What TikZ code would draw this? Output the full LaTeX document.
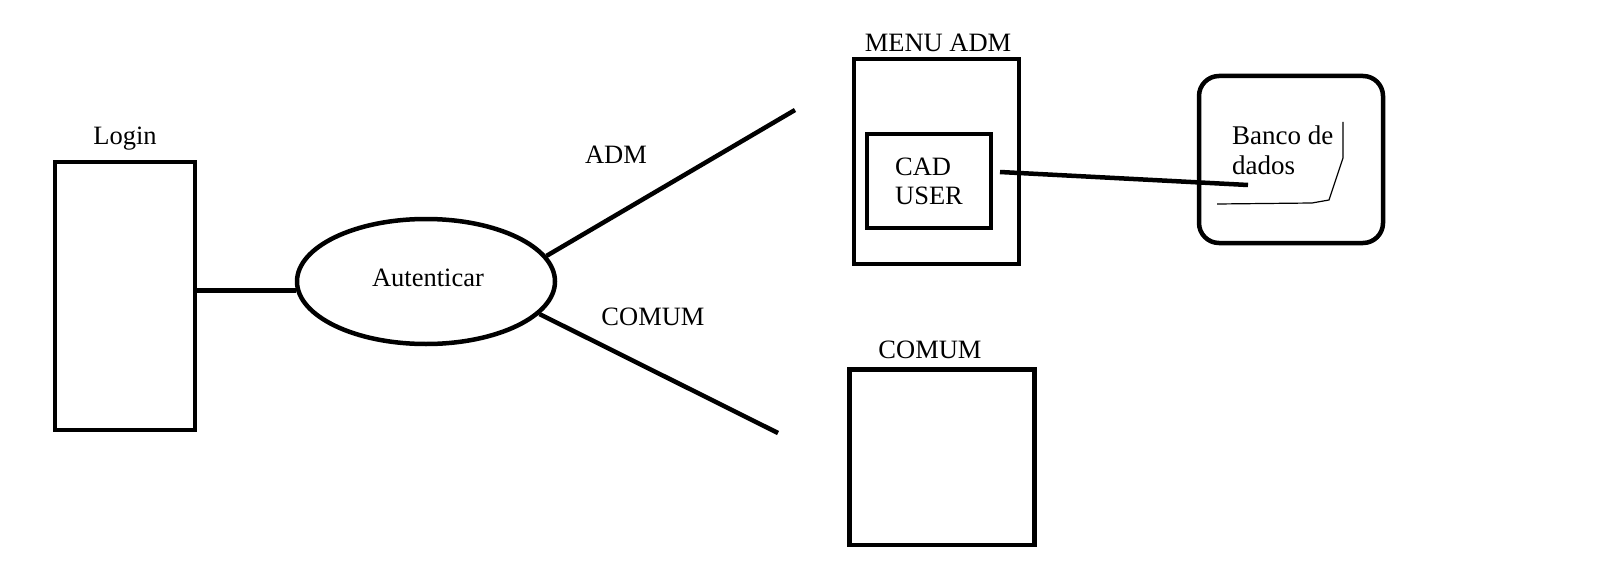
\documentclass[tikz,border=0pt]{standalone}
\usepackage{fontspec}
\setmainfont{Liberation Serif}
\usetikzlibrary{shapes.geometric}
\tikzset{
  boxnode/.style={draw,line width=4.5pt,rectangle,inner sep=0pt},
  roundbox/.style={draw,line width=4.5pt,rectangle,rounded corners=20pt,inner sep=0pt},
  ellnode/.style={draw,line width=4.5pt,ellipse,inner sep=0pt},
  lbl/.style={inner sep=0pt,anchor=base,font=\fontsize{26.5}{29}\selectfont},
  conn/.style={line width=4.5pt},
  thinline/.style={line width=1.2pt}
}
\begin{document}
\begin{tikzpicture}[x=1pt,y=-1pt]
\useasboundingbox (0,0) rectangle (1602,580);
% Login
\node[boxnode,minimum width=140pt,minimum height=268pt] (login) at (125,296) {};
\node[lbl] (loginlbl) at (125,145) {Login};
% Autenticar
\node[ellnode,minimum width=258pt,minimum height=125pt] (aut) at (426,281.5) {};
\node[lbl] (autlbl) at (428,286.7) {Autenticar};
\draw[conn] (aut.184 -| login.east) -- (aut.184);
% branches
\coordinate (admend) at (795,110);
\coordinate (comend) at (778,433);
\draw[conn] (aut.12) -- (admend);
\draw[conn] (aut.-16) -- (comend);
\node[lbl] (admlbl) at (616,163.3) {ADM};
\node[lbl] (comlbl) at (653,325) {COMUM};
% MENU ADM
\node[boxnode,minimum width=165pt,minimum height=205pt] (menu) at (936.5,161.5) {};
\node[lbl] (menulbl) at (938,51.7) {MENU ADM};
\node[boxnode,minimum width=124pt,minimum height=94pt,align=left,font=\fontsize{26.5}{29}\selectfont] (cad) at (929,181) {CAD\\USER};
% COMUM box
\node[boxnode,minimum width=185pt,minimum height=175.5pt] (comum) at (942,457.3) {};
\node[lbl] (comumlbl) at (930,358.3) {COMUM};
% Banco de dados
\node[roundbox,minimum width=184pt,minimum height=167pt] (db) at (1291,159.5) {};
\node[lbl,anchor=base west,align=left,font=\fontsize{27}{30}\selectfont] (dblbl) at (1232,174.5) {Banco de\\dados};
\coordinate (dbA) at (1000,172);
\coordinate (dbB) at (1248,185);
\draw[conn] (dbA) -- (dbB);
\draw[thinline] (1343,122) -- (1343,158) -- (1329,200) -- (1312,203) -- (1217,204);
\end{tikzpicture}
\end{document}
